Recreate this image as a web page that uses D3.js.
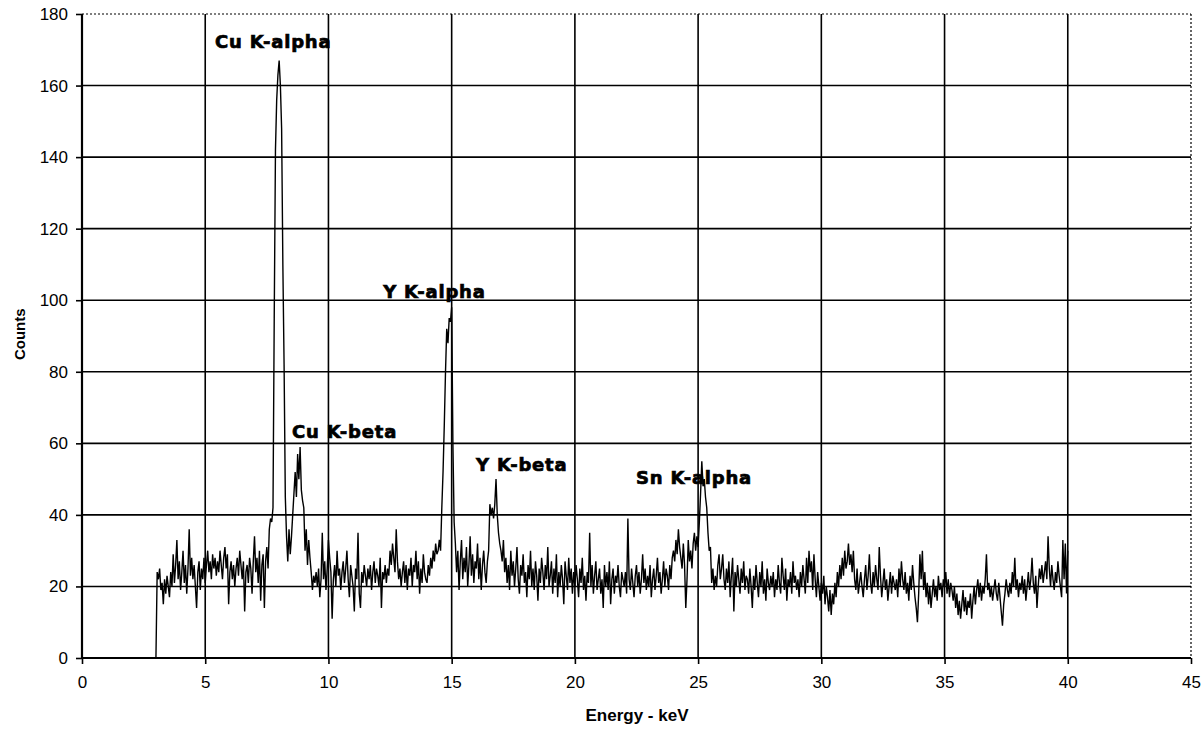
<!DOCTYPE html>
<html>
<head>
<meta charset="utf-8">
<script src="https://cdn.jsdelivr.net/npm/d3@7/dist/d3.min.js"></script>
<style>
  html, body { margin: 0; padding: 0; background: #fff; }
  svg { display: block; }
</style>
</head>
<body>
<svg id="chart" width="1204" height="731"></svg>
<script>
// ---------------- DATA ----------------
// Spectrum channels: energy of first channel and channel width (keV)
const channelStartKeV = 3.0;
const channelWidthKeV = 0.05;
// Counts per channel (one row = 1 keV, 20 channels)
const counts = [
  0,24,22,25,19,21,15,22,18,23,20,17,24,20,29,21,26,33,22,27,        // 3
  19,24,30,21,26,18,25,36,23,28,22,26,20,14,24,27,19,25,22,28,       // 4
  21,26,30,24,27,22,29,25,28,23,27,24,30,26,22,28,31,25,29,15,       // 5
  24,27,22,26,20,25,28,23,30,26,22,27,13,24,26,21,28,25,18,27,       // 6
  34,24,28,21,30,16,26,29,14,27,31,25,36,39,38,42,95,142,156,163,    // 7
  167,160,148,110,82,45,34,27,36,29,34,40,46,52,45,57,50,59,47,44,   // 8
  42,30,36,26,33,28,24,19,23,21,24,20,25,17,22,35,22,27,19,25,       // 9
  33,28,24,11,22,26,20,30,23,25,19,24,27,21,25,30,22,17,26,23,       // 10
  20,13,25,22,35,18,14,24,21,26,23,20,25,22,26,19,24,27,21,25,       // 11
  23,20,28,14,24,22,26,21,25,23,30,26,32,28,24,36,27,22,25,20,       // 12
  24,27,21,26,19,25,23,28,20,26,24,30,22,27,18,25,21,29,24,22,       // 13
  21,26,23,28,25,30,27,32,29,30,33,30,42,52,65,80,92,88,95,94,       // 14
  98,60,38,32,24,30,19,27,33,22,28,24,31,20,26,34,23,29,21,27,       // 15
  25,32,22,28,19,26,30,24,21,27,30,43,40,42,39,43,50,40,35,32,       // 16
  30,27,33,24,28,21,26,19,30,23,27,20,25,31,22,18,26,23,29,21,       // 17
  24,17,26,22,30,20,25,19,27,23,16,25,21,28,24,19,26,22,31,20,       // 18
  23,27,18,25,21,29,17,24,20,26,22,15,27,23,19,28,21,25,18,24,       // 19
  20,26,22,17,25,21,28,19,23,16,24,21,35,20,26,18,23,27,19,22,       // 20
  25,18,22,14,26,20,24,19,27,15,22,25,18,23,21,26,20,17,24,22,       // 21
  20,24,18,39,22,19,25,21,17,23,26,20,24,18,22,29,21,25,19,23,       // 22
  20,26,17,22,25,19,23,28,21,24,18,22,27,20,25,23,19,26,22,28,       // 23
  30,27,33,29,36,31,28,25,32,26,14,22,33,27,30,25,32,35,30,34,       // 24
  31,38,46,55,48,50,45,42,35,30,31,21,25,19,23,20,26,29,22,25,       // 25
  29,22,19,25,21,27,17,23,28,13,24,20,26,22,18,25,21,27,19,23,       // 26
  22,18,25,20,14,23,19,26,21,17,24,20,27,18,22,16,25,21,19,23,       // 27
  20,24,17,22,19,26,21,18,28,23,19,25,16,22,20,24,18,27,21,23,       // 28
  19,22,17,24,20,26,22,18,28,21,30,24,27,19,29,22,17,24,20,16,       // 29
  21,18,23,15,20,17,13,19,12,18,15,21,17,24,20,26,22,28,23,30,       // 30
  25,27,32,26,29,24,30,22,19,25,18,21,24,20,17,22,26,19,23,29,       // 31
  21,18,24,20,26,22,19,31,23,17,21,25,19,22,16,20,24,18,23,21,       // 32
  19,22,17,25,20,27,22,19,24,18,21,16,23,19,26,21,17,14,10,18,       // 33
  29,22,30,19,24,17,21,15,20,14,18,22,17,20,16,23,19,21,17,22,       // 34
  20,24,18,22,17,21,19,16,20,14,18,12,16,11,15,19,13,17,12,16,       // 35
  14,18,11,16,20,15,19,22,17,21,16,20,18,22,29,19,21,17,20,16,       // 36
  19,22,18,16,21,17,13,9,15,18,22,19,17,21,18,24,20,28,19,22,        // 37
  17,21,19,23,18,22,16,20,24,19,22,28,21,18,23,14,20,25,22,26,       // 38
  21,24,27,22,34,25,20,26,22,19,24,21,27,23,20,17,33,22,32,18,       // 39
  30                                                                 // 40
];
const xTicks = [0, 5, 10, 15, 20, 25, 30, 35, 40, 45];
const yTicks = [0, 20, 40, 60, 80, 100, 120, 140, 160, 180];
const xDomain = [0, 45];
const yDomain = [0, 180];
const annotations = [
  { text: "Cu K-alpha", energy: 5.4,  count: 170.5 },
  { text: "Cu K-beta",  energy: 8.52, count: 61.4 },
  { text: "Y K-alpha",  energy: 12.22, count: 100.5 },
  { text: "Y K-beta",   energy: 15.99, count: 52.4 },
  { text: "Sn K-alpha", energy: 22.48, count: 48.5 }
];
const xTitle = "Energy - keV";
const yTitle = "Counts";

// ---------------- LAYOUT ----------------
const plot = { left: 82, right: 1191, top: 14, bottom: 658 };
const svg = d3.select("#chart");

const x = d3.scaleLinear().domain(xDomain).range([plot.left, plot.right]);
const y = d3.scaleLinear().domain(yDomain).range([plot.bottom, plot.top]);

const spectrum = counts.map((c, i) => ({ e: channelStartKeV + i * channelWidthKeV, c }));

// Gridlines
const grid = svg.append("g");
grid.selectAll("line.h").data(yTicks.filter(t => t > 0 && t < 180)).join("line")
  .attr("x1", plot.left).attr("x2", plot.right)
  .attr("y1", d => y(d)).attr("y2", d => y(d))
  .attr("stroke", "#000").attr("stroke-width", 1.6);
grid.selectAll("line.v").data(xTicks.filter(t => t > 0 && t < 45)).join("line")
  .attr("x1", d => x(d)).attr("x2", d => x(d))
  .attr("y1", plot.top).attr("y2", plot.bottom)
  .attr("stroke", "#000").attr("stroke-width", 1.6);

// Dotted top and right border
svg.append("line")
  .attr("x1", plot.left).attr("x2", plot.right)
  .attr("y1", plot.top).attr("y2", plot.top)
  .attr("stroke", "#000").attr("stroke-width", 1.2).attr("stroke-dasharray", "2,2");
svg.append("line")
  .attr("x1", plot.right).attr("x2", plot.right)
  .attr("y1", plot.top).attr("y2", plot.bottom)
  .attr("stroke", "#000").attr("stroke-width", 1.2).attr("stroke-dasharray", "2,2");

// Spectrum line
const line = d3.line().x(d => x(d.e)).y(d => y(d.c));
svg.append("path").datum(spectrum)
  .attr("d", line)
  .attr("fill", "none").attr("stroke", "#000").attr("stroke-width", 1.4)
  .attr("stroke-linejoin", "miter");

// Axes
const xAxis = d3.axisBottom(x).tickValues(xTicks).tickSize(6).tickPadding(12).tickFormat(d3.format("d"));
const yAxis = d3.axisLeft(y).tickValues(yTicks).tickSize(6).tickPadding(8).tickFormat(d3.format("d"));

const gx = svg.append("g").attr("transform", `translate(0,${plot.bottom})`).call(xAxis);
const gy = svg.append("g").attr("transform", `translate(${plot.left},0)`).call(yAxis);

[gx, gy].forEach(g => {
  g.select(".domain").attr("stroke", "#000").attr("stroke-width", 2.2);
  g.selectAll(".tick line").attr("stroke", "#000").attr("stroke-width", 1.6);
  g.selectAll(".tick text")
    .attr("fill", "#000")
    .style("font-family", "Arial, 'Liberation Sans', sans-serif")
    .style("font-size", "17px");
});
gy.select(".domain").attr("d", `M0,${plot.bottom}V${plot.top}`);
gx.select(".domain").attr("d", `M${plot.left},0H${plot.right}`);

// Axis titles
svg.append("text")
  .attr("x", x(22.52)).attr("y", 721)
  .attr("text-anchor", "middle")
  .style("font-family", "Arial, 'Liberation Sans', sans-serif")
  .style("font-weight", "bold").style("font-size", "17px")
  .text(xTitle);
svg.append("text")
  .attr("transform", `translate(25,${y(90.5)}) rotate(-90)`)
  .attr("text-anchor", "middle")
  .style("font-family", "Arial, 'Liberation Sans', sans-serif")
  .style("font-weight", "bold").style("font-size", "15px")
  .text(yTitle);

// Peak annotations
svg.selectAll("text.ann").data(annotations).join("text")
  .attr("class", "ann")
  .attr("x", d => x(d.energy)).attr("y", d => y(d.count))
  .style("font-family", "'DejaVu Sans', sans-serif")
  .style("font-weight", "bold").style("font-size", "18px")
  .style("letter-spacing", "0.8px")
  .attr("stroke", "#000").attr("stroke-width", 0.7)
  .text(d => d.text);
</script>
</body>
</html>
